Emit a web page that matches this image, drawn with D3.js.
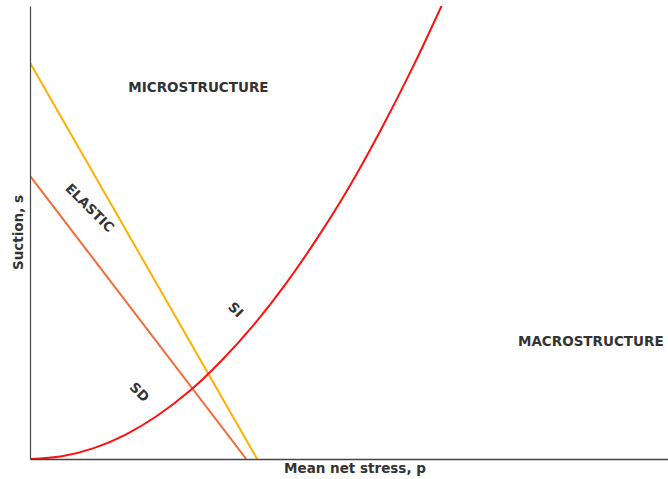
<!DOCTYPE html>
<html>
<head>
<meta charset="utf-8">
<script src="https://cdn.jsdelivr.net/npm/d3@7"></script>
<style>
  html, body { margin: 0; padding: 0; background: #fff; }
  svg text { font-family: "DejaVu Sans", sans-serif; font-weight: bold; fill: #333; }
</style>
</head>
<body>
<svg id="chart" width="668" height="479"></svg>
<script>
// Yield loci in the (p, s) plane
const siLine = [[0, 8.75], [3.56, 0]];          // suction increase (yellow)
const sdLine = [[0, 6.25], [3.39, 0]];          // suction decrease (orange)
const lcCurve = [                               // loading-collapse curve (red)
  [0, 0], [0.5, 0.06], [1, 0.24], [1.5, 0.54], [2, 0.96], [2.5, 1.5],
  [3, 2.17], [3.5, 2.95], [4, 3.85], [4.5, 4.87], [5, 6.0], [5.5, 7.27],
  [6, 8.65], [6.45, 10.0]
];
const regionLabels = [
  { text: "MICROSTRUCTURE", p: 2.64, s: 8.21, angle: 0 },
  { text: "MACROSTRUCTURE", p: 8.79, s: 2.6, angle: 0 },
  { text: "ELASTIC", p: 0.94, s: 5.55, angle: 45 },
  { text: "SI", p: 3.23, s: 3.3, angle: 45 },
  { text: "SD", p: 1.72, s: 1.48, angle: 45 }
];

const svg = d3.select("#chart");
const margin = { left: 30, right: 0, top: 6, bottom: 20 };
const W = 668, H = 479;
const x = d3.scaleLinear().domain([0, 10]).range([margin.left, W - margin.right]);
const y = d3.scaleLinear().domain([0, 10]).range([H - margin.bottom, margin.top]);

const line = d3.line().x(d => x(d[0])).y(d => y(d[1]));

const plot = svg.append("g");

// clip so the curve stops at the top of the axes
svg.append("defs").append("clipPath").attr("id", "clip")
  .append("rect").attr("x", margin.left).attr("y", margin.top)
  .attr("width", W - margin.left - margin.right).attr("height", H - margin.top - margin.bottom);

const curves = plot.append("g").attr("clip-path", "url(#clip)");
curves.append("path").datum(siLine).attr("d", line)
  .attr("fill", "none").attr("stroke", "#FFB000").attr("stroke-width", 2);
curves.append("path").datum(sdLine).attr("d", line)
  .attr("fill", "none").attr("stroke", "#F26B3A").attr("stroke-width", 2);
curves.append("path").datum(lcCurve).attr("d", line.curve(d3.curveMonotoneX))
  .attr("fill", "none").attr("stroke", "#FF1010").attr("stroke-width", 2);

// axes without ticks
const xAxis = d3.axisBottom(x).tickValues([]).tickSizeOuter(0);
const yAxis = d3.axisLeft(y).tickValues([]).tickSizeOuter(0);
plot.append("g").attr("transform", `translate(0,${y(0)})`).call(xAxis)
  .select(".domain").attr("stroke", "#444").attr("stroke-width", 1.5);
plot.append("g").attr("transform", `translate(${x(0)},0)`).call(yAxis)
  .select(".domain").attr("stroke", "#444").attr("stroke-width", 1.2);

// axis titles
svg.append("text").attr("x", 355).attr("y", 473).attr("text-anchor", "middle")
  .attr("font-size", 13.5).text("Mean net stress, p");
svg.append("text").attr("transform", `translate(23,${(y(0) + y(10)) / 2}) rotate(-90)`)
  .attr("text-anchor", "middle").attr("font-size", 13.5).text("Suction, s");

// region labels
svg.selectAll("text.region").data(regionLabels).join("text")
  .attr("class", "region")
  .attr("transform", d => `translate(${x(d.p)},${y(d.s)}) rotate(${d.angle})`)
  .attr("text-anchor", "middle").attr("dominant-baseline", "central")
  .attr("font-size", 13.5).text(d => d.text);
</script>
</body>
</html>
